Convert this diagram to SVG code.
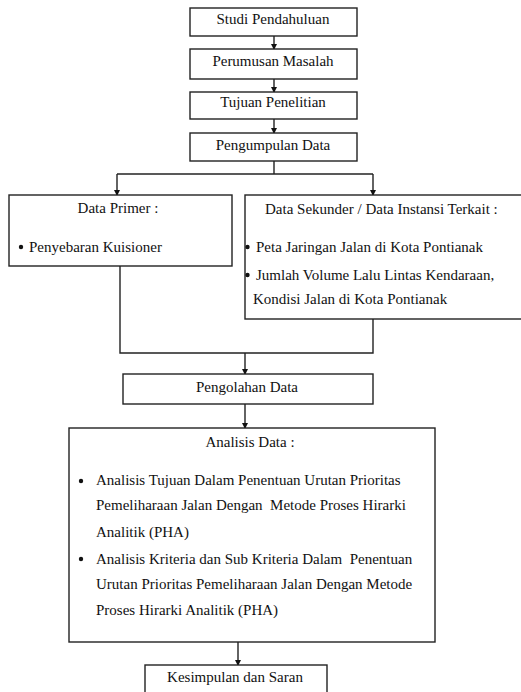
<svg xmlns="http://www.w3.org/2000/svg" width="521" height="692" viewBox="0 0 521 692">
<style>
.box{fill:#fff;stroke:#222;stroke-width:1.4}
text{font-family:'Times New Roman',Times,Tinos,'Liberation Serif','Noto Serif','Nimbus Roman','DejaVu Serif',serif;font-size:15px;fill:#111}
.c{text-anchor:middle}
.ln{fill:none;stroke:#222;stroke-width:1.4}
</style>
<defs>
<marker id="ah" markerWidth="6" markerHeight="6" refX="5" refY="3" orient="auto" markerUnits="userSpaceOnUse">
<path d="M0,0 L6,3 L0,6 Z" fill="#111"/>
</marker>
</defs>
<rect width="521" height="692" fill="#fff"/>
<g id="connectors">
<path class="ln" d="M274,36 V49" marker-end="url(#ah)"/>
<path class="ln" d="M274,79 V92" marker-end="url(#ah)"/>
<path class="ln" d="M274,119 V133" marker-end="url(#ah)"/>
<path class="ln" d="M274,161 V174"/>
<path class="ln" d="M117,174 H373"/>
<path class="ln" d="M117,174 V195" marker-end="url(#ah)"/>
<path class="ln" d="M373,174 V195" marker-end="url(#ah)"/>
<path class="ln" d="M120,266 V353 H373 V319"/>
<path class="ln" d="M245,353 V374" marker-end="url(#ah)"/>
<path class="ln" d="M245,404 V428" marker-end="url(#ah)"/>
<path class="ln" d="M238,642 V665" marker-end="url(#ah)"/>
</g>
<g id="studi">
<rect class="box" x="190" y="8" width="167" height="28"/>
<text class="c" x="273" y="24">Studi Pendahuluan</text>
</g>
<g id="perumusan">
<rect class="box" x="190" y="49" width="167" height="30"/>
<text class="c" x="273" y="66">Perumusan Masalah</text>
</g>
<g id="tujuan">
<rect class="box" x="190" y="92" width="167" height="27"/>
<text class="c" x="273" y="107">Tujuan Penelitian</text>
</g>
<g id="pengumpulan">
<rect class="box" x="190" y="133" width="167" height="28"/>
<text class="c" x="273" y="150">Pengumpulan Data</text>
</g>
<g id="primer">
<rect class="box" x="9" y="195" width="223" height="71"/>
<text class="c" x="118" y="213">Data Primer :</text>
<circle cx="21" cy="247" r="2.2" fill="#111"/>
<text x="29" y="252">Penyebaran Kuisioner</text>
</g>
<g id="sekunder">
<rect class="box" x="245" y="195" width="285" height="124"/>
<text x="265" y="214">Data Sekunder / Data Instansi Terkait :</text>
<circle cx="247.5" cy="247" r="2.2" fill="#111"/>
<text x="256" y="252">Peta Jaringan Jalan di Kota Pontianak</text>
<circle cx="247.5" cy="275" r="2.2" fill="#111"/>
<text x="256" y="280">Jumlah Volume Lalu Lintas Kendaraan,</text>
<text x="253" y="304">Kondisi Jalan di Kota Pontianak</text>
</g>
<g id="pengolahan">
<rect class="box" x="123" y="374" width="250" height="30"/>
<text class="c" x="247" y="392">Pengolahan Data</text>
</g>
<g id="analisis">
<rect class="box" x="69" y="428" width="366" height="214"/>
<text class="c" x="250" y="447">Analisis Data :</text>
<circle cx="81" cy="481" r="2.2" fill="#111"/>
<text x="96" y="485">Analisis Tujuan Dalam Penentuan Urutan Prioritas</text>
<text x="96" y="510" xml:space="preserve">Pemeliharaan Jalan Dengan  Metode Proses Hirarki</text>
<text x="96" y="537">Analitik (PHA)</text>
<circle cx="81" cy="559" r="2.2" fill="#111"/>
<text x="96" y="564" xml:space="preserve">Analisis Kriteria dan Sub Kriteria Dalam  Penentuan</text>
<text x="96" y="589">Urutan Prioritas Pemeliharaan Jalan Dengan Metode</text>
<text x="96" y="615">Proses Hirarki Analitik (PHA)</text>
</g>
<g id="kesimpulan">
<rect class="box" x="145" y="665" width="182" height="40"/>
<text class="c" x="235" y="682">Kesimpulan dan Saran</text>
</g>
</svg>
